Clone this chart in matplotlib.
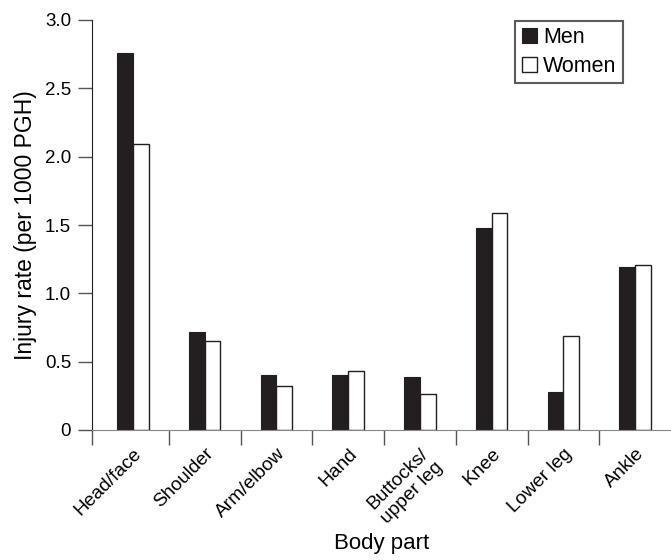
import matplotlib
matplotlib.use("Agg")
import matplotlib.pyplot as plt
import numpy as np

categories = ["Head/face", "Shoulder", "Arm/elbow", "Hand", "Buttocks/\nupper leg",
              "Knee", "Lower leg", "Ankle"]
men = [2.76, 0.72, 0.40, 0.40, 0.39, 1.48, 0.28, 1.19]
women = [2.09, 0.65, 0.32, 0.43, 0.26, 1.59, 0.69, 1.21]
yticks = [0, 0.5, 1.0, 1.5, 2.0, 2.5, 3.0]
ytick_labels = ["0", "0.5", "1.0", "1.5", "2.0", "2.5", "3.0"]

plt.rcParams['font.family'] = ['Liberation Sans', 'DejaVu Sans']

fig = plt.figure(figsize=(6.71, 5.6), dpi=100)
ax = fig.add_axes([92/671, 130/560, 1 - 92/671, 410/560])

x = np.arange(len(categories))
w = 0.22
ax.bar(x - w/2, men, w, color="#231f20", edgecolor="#231f20", linewidth=0.8, label="Men")
ax.bar(x + w/2, women, w, color="white", edgecolor="#231f20", linewidth=1.0, label="Women")

ax.set_xlim(-0.57, 7.5)
ax.set_ylim(0, 3.0)
ax.set_yticks(yticks)
ax.set_yticklabels(ytick_labels, fontsize=13.5)
ax.tick_params(axis='y', direction='out', length=10, width=1, color="#555555", pad=5)

# boundary ticks on x-axis
ax.set_xticks([-0.57] + [i + 0.5 for i in range(7)])
ax.set_xticklabels([])
ax.tick_params(axis='x', direction='out', length=11, width=1, color="#555555")
ax.set_xticks(x, minor=True)
ax.set_xticklabels(categories, minor=True, rotation=45, ha='right',
                   rotation_mode='anchor', fontsize=13.8, multialignment='center')
ax.tick_params(axis='x', which='minor', length=0, pad=11)

for s in ['top', 'right']:
    ax.spines[s].set_visible(False)
ax.spines['left'].set_color("#231f20")
ax.spines['bottom'].set_color("#888888")

ax.set_ylabel("Injury rate (per 1000 PGH)", fontsize=16.5, labelpad=6)
ax.set_xlabel("Body part", fontsize=16)
ax.xaxis.set_label_coords(0.5, -0.25)

leg = ax.legend(loc='upper right', bbox_to_anchor=(0.917, 0.998), borderaxespad=0,
                fontsize=15.5, frameon=True, fancybox=False, edgecolor="#333333",
                handlelength=0.7, handleheight=0.7, handletextpad=0.3,
                borderpad=0.3, labelspacing=0.35)
leg.get_frame().set_linewidth(1.5)

fig.savefig("out.png", dpi=100)
